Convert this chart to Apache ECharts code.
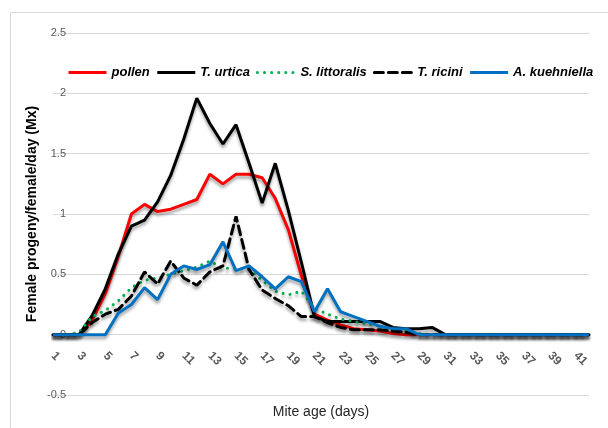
<!DOCTYPE html>
<html>
<head>
<meta charset="utf-8">
<script src="https://cdn.jsdelivr.net/npm/echarts@6/dist/echarts.min.js"></script>
<style>
  html, body { margin: 0; padding: 0; background: #fff; }
  #chart { width: 608px; height: 428px; }
</style>
</head>
<body>
<div id="chart"></div>
<script>
// days 1..42
var days = [];
for (var i = 1; i <= 42; i++) days.push(String(i));

var pollen = [0, 0, 0, 0.12, 0.34, 0.65, 1.0, 1.08, 1.02, 1.04, 1.08, 1.12, 1.33, 1.25, 1.33, 1.33, 1.3, 1.13, 0.87, 0.49, 0.17,
    0.12, 0.08, 0.05, 0.04, 0.03, 0.01, 0, 0, 0, 0, 0, 0, 0, 0, 0, 0, 0, 0, 0, 0, 0];
var urtica = [0, 0, 0, 0.16, 0.38, 0.67, 0.9, 0.95, 1.1, 1.32, 1.62, 1.96, 1.75, 1.58, 1.74, 1.42, 1.09, 1.42, 1.03, 0.6, 0.15,
    0.11, 0.11, 0.11, 0.11, 0.11, 0.06, 0.05, 0.05, 0.06, 0, 0, 0, 0, 0, 0, 0, 0, 0, 0, 0, 0];
var littoralis = [0, 0, 0.02, 0.15, 0.2, 0.28, 0.39, 0.45, 0.47, 0.5, 0.53, 0.56, 0.61, 0.55, 0.55, 0.54, 0.45, 0.36, 0.33, 0.36, 0.22,
    0.17, 0.13, 0.11, 0.09, 0.07, 0.05, 0.03, 0.01, 0, 0, 0, 0, 0, 0, 0, 0, 0, 0, 0, 0, 0];
var ricini = [0, 0, 0, 0.1, 0.17, 0.21, 0.32, 0.52, 0.42, 0.61, 0.47, 0.41, 0.52, 0.57, 0.98, 0.54, 0.37, 0.3, 0.24, 0.15, 0.15,
    0.1, 0.06, 0.04, 0.04, 0.04, 0.03, 0.02, 0, 0, 0, 0, 0, 0, 0, 0, 0, 0, 0, 0, 0, 0];
var kuehniella = [0, 0, 0, 0, 0, 0.18, 0.25, 0.39, 0.29, 0.5, 0.57, 0.54, 0.58, 0.77, 0.53, 0.57, 0.48, 0.38, 0.48, 0.44, 0.19,
    0.38, 0.19, 0.15, 0.11, 0.07, 0.05, 0.05, 0, 0, 0, 0, 0, 0, 0, 0, 0, 0, 0, 0, 0, 0];

var yTicks = { min: -0.5, max: 2.5, step: 0.5 };

function mkLine(name, data, color, type) {
    return {
        name: name,
        type: 'line',
        data: data,
        symbol: 'none',
        lineStyle: {
            color: color,
            width: 3,
            type: type,
            cap: type === 'solid' ? 'butt' : 'round',
            shadowColor: 'rgba(0,0,0,0.35)',
            shadowBlur: 3,
            shadowOffsetY: 3
        },
        itemStyle: { color: color }
    };
}

var chart = echarts.init(document.getElementById('chart'));

var option = {
    backgroundColor: '#fff',
    animation: false,
    graphic: [{
        type: 'rect',
        shape: { x: 10.5, y: 12.5, width: 600, height: 430 },
        style: { fill: 'none', stroke: '#d9d9d9', lineWidth: 1 }
    }],
    legend: {
        left: 62,
        top: 61,
        itemWidth: 38,
        itemHeight: 14,
        itemGap: 6,
        itemStyle: { opacity: 0 },
        lineStyle: { width: 3 },
        textStyle: {
            fontFamily: 'Liberation Sans',
            fontSize: 13,
            fontWeight: 'bold',
            fontStyle: 'italic',
            color: '#000'
        },
        data: ['pollen', 'T. urtica', 'S. littoralis', 'T. ricini', 'A. kuehniella']
    },
    grid: {
        left: 53,
        right: 19,
        top: 33,
        bottom: 33,
        containLabel: false,
        outerBoundsMode: 'none'
    },
    xAxis: {
        type: 'category',
        data: days,
        boundaryGap: false,
        name: 'Mite age (days)',
        nameLocation: 'middle',
        nameGap: 10,
        nameMoveOverlap: false,
        nameTextStyle: { fontFamily: 'Liberation Sans', fontSize: 14, color: '#262626' },
        axisLine: { show: false, onZero: false },
        axisTick: { show: false },
        axisLabel: {
            interval: 1,
            rotate: -45,
            margin: -41,
            fontFamily: 'Liberation Sans',
            fontSize: 12,
            fontWeight: 'bold',
            color: '#595959'
        }
    },
    yAxis: {
        type: 'value',
        min: yTicks.min,
        max: yTicks.max,
        interval: yTicks.step,
        name: 'Female progeny/female/day (Mx)',
        nameLocation: 'middle',
        nameGap: 14,
        nameMoveOverlap: false,
        nameTextStyle: { fontFamily: 'Liberation Sans', fontSize: 14, fontWeight: 'bold', color: '#000' },
        axisLine: { show: false },
        axisTick: { show: false },
        splitLine: { lineStyle: { color: '#d9d9d9' } },
        axisLabel: {
            margin: -13,
            fontFamily: 'Liberation Sans',
            fontSize: 11,
            color: '#595959'
        }
    },
    series: [
        mkLine('pollen', pollen, '#ff0000', 'solid'),
        mkLine('T. urtica', urtica, '#000000', 'solid'),
        mkLine('S. littoralis', littoralis, '#00b050', [0.1, 7]),
        mkLine('T. ricini', ricini, '#000000', [9, 5]),
        mkLine('A. kuehniella', kuehniella, '#0070c0', 'solid')
    ]
};

chart.setOption(option);

window.onresize = chart.resize;
</script>
</body>
</html>
